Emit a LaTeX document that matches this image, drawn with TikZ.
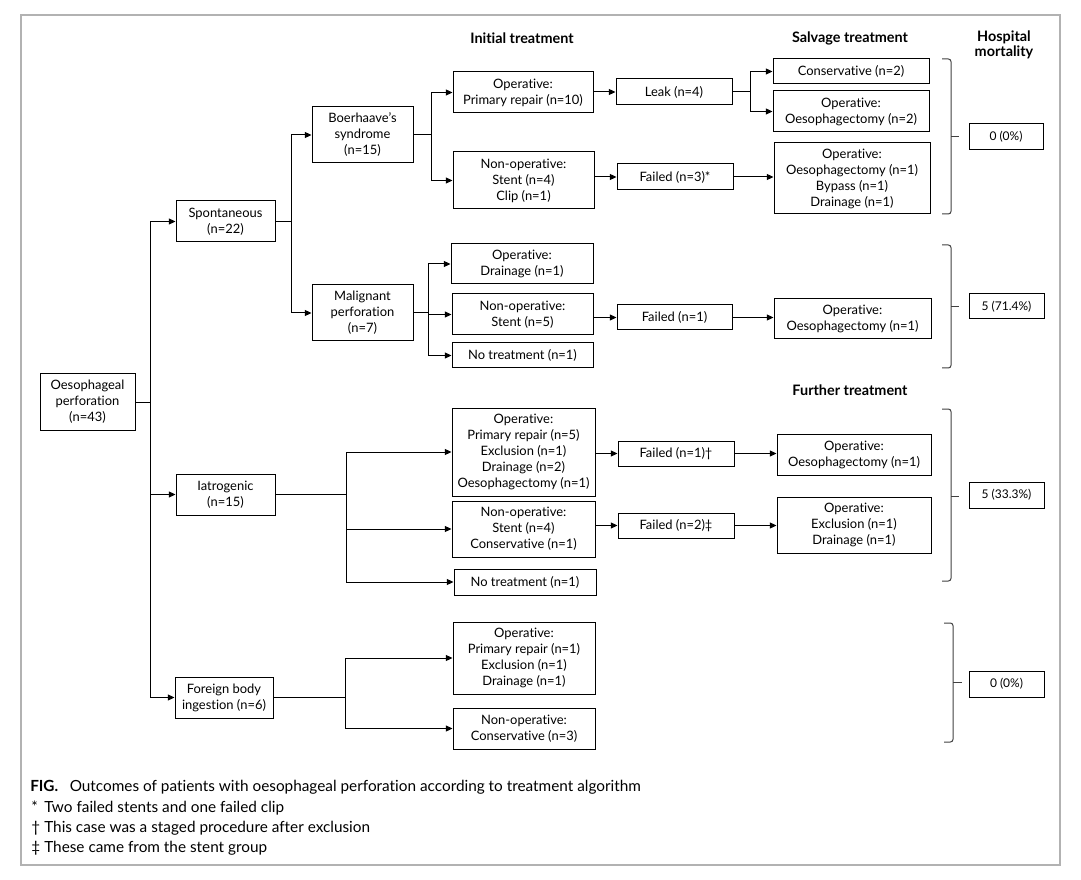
\documentclass[tikz,border=0pt]{standalone}
\usepackage{fontspec}
\setmainfont{Lato}[Ligatures=NoCommon]
\usetikzlibrary{arrows.meta}
\newcommand\nodebox[6]{\node[box, minimum width={(#4-#2)*0.75pt}, minimum height={(#5-#3)*0.75pt}] (#1) at ({(#2+#4)/2},{(#3+#5)/2}) {#6};}
\begin{document}
\begin{tikzpicture}[x=0.75pt,y=-0.75pt,
  box/.style={draw, line width=0.75pt, inner sep=1pt, align=center, font=\fontsize{9.7}{12}\selectfont},
  arr/.style={-{Triangle[length=5pt,width=4.5pt]}, line width=0.75pt},
  ln/.style={line width=0.75pt},
  hdr/.style={font=\bfseries\fontsize{10.8}{11.5}\selectfont, align=center},
  brace/.style={line width=0.75pt, rounded corners=2pt, draw=black!75},
  capt/.style={anchor=base west, inner sep=0pt, font=\fontsize{11.5}{12}\selectfont},
  fnote/.style={anchor=base west, inner sep=0pt, font=\fontsize{11.5}{12}\selectfont}]
\useasboundingbox (0,0) rectangle (1081,880);
\draw[black!30, line width=1.1pt] (21,15) rectangle (1060,865);

% headers
\node[hdr] (hinit) at (522,38) {Initial treatment};
\node[hdr] (hsalv) at (850,38) {Salvage treatment};
\node[hdr] (hmort) at (1004,45) {Hospital\\mortality};
\node[hdr] (hfurth) at (850,390) {Further treatment};

% boxes
\nodebox{root}{40}{374}{135}{430}{Oesophageal\\perforation\\(n=43)}
\nodebox{spont}{176}{201}{275}{242}{Spontaneous\\(n=22)}
\nodebox{boer}{312}{107}{413}{163}{Boerhaave’s\\syndrome\\(n=15)}
\nodebox{malig}{312}{285}{413}{341}{Malignant\\perforation\\(n=7)}
\nodebox{iatro}{176}{474}{275}{515}{Iatrogenic\\(n=15)}
\nodebox{foreign}{175}{677}{273}{718}{Foreign body\\ingestion (n=6)}
\nodebox{bop}{453}{72}{593}{113}{Operative:\\Primary repair (n=10)}
\nodebox{bnon}{453}{152}{594}{209}{Non-operative:\\Stent (n=4)\\Clip (n=1)}
\nodebox{mop}{451}{244}{593}{284}{Operative:\\Drainage (n=1)}
\nodebox{mnon}{452}{294}{593}{335}{Non-operative:\\Stent (n=5)}
\nodebox{mnone}{452}{343}{593}{368}{No treatment (n=1)}
\nodebox{iop}{452}{408}{595}{496}{Operative:\\Primary repair (n=5)\\Exclusion (n=1)\\Drainage (n=2)\\Oesophagectomy (n=1)}
\nodebox{inon}{452}{501}{595}{557}{Non-operative:\\Stent (n=4)\\Conservative (n=1)}
\nodebox{inone}{454}{569}{596}{595}{No treatment (n=1)}
\nodebox{fop}{453}{622}{595}{694}{Operative:\\Primary repair (n=1)\\Exclusion (n=1)\\Drainage (n=1)}
\nodebox{fnon}{453}{708}{595}{749}{Non-operative:\\Conservative (n=3)}
\nodebox{leak}{616}{79}{732}{105}{Leak (n=4)}
\nodebox{bfail}{617}{164}{733}{190}{Failed (n=3)*}
\nodebox{mfail}{617}{305}{732}{330}{Failed (n=1)}
\nodebox{ifaila}{618}{441}{734}{466}{Failed (n=1)†}
\nodebox{ifailb}{618}{513}{734}{538}{Failed (n=2)‡}
\nodebox{scons}{773}{59}{929}{84}{Conservative (n=2)}
\nodebox{soes}{773}{91}{929}{132}{Operative:\\Oesophagectomy (n=2)}
\nodebox{sop}{774}{143}{930}{214}{Operative:\\Oesophagectomy (n=1)\\Bypass (n=1)\\Drainage (n=1)}
\nodebox{moes}{774}{299}{931}{339}{Operative:\\Oesophagectomy (n=1)}
\nodebox{ioes}{777}{434}{931}{475}{Operative:\\Oesophagectomy (n=1)}
\nodebox{iexc}{777}{497}{931}{553}{Operative:\\Exclusion (n=1)\\Drainage (n=1)}
\tikzset{box/.style={draw, line width=0.75pt, inner sep=1pt, align=center, font=\fontsize{9}{12}\selectfont}}
\nodebox{morta}{969}{124}{1043}{150}{0 (0\%)}
\nodebox{mortb}{969}{294}{1044}{319}{5 (71.4\%)}
\nodebox{mortc}{969}{482}{1044}{508}{5 (33.3\%)}
\nodebox{mortd}{969}{671}{1044}{697}{0 (0\%)}

% junction columns
\coordinate (j0) at (150,0);
\coordinate (j1) at (291,0);
\coordinate (j2) at (431,0);
\coordinate (j3) at (750,0);
\coordinate (j4) at (428,0);
\coordinate (j5) at (346,0);
\coordinate (j6) at (345,0);

% root
\draw[ln] (root.east) -- (j0 |- root.east);
\draw[arr] (j0 |- root.east) |- (spont.west);
\draw[arr] (j0 |- root.east) |- (iatro.west);
\draw[arr] (j0 |- root.east) |- (foreign.west);
% spontaneous
\draw[ln] (spont.east) -- (j1 |- spont.east);
\draw[arr] (j1 |- spont.east) |- (boer.west);
\draw[arr] (j1 |- spont.east) |- (malig.west);
% boerhaave
\draw[ln] (boer.east) -- (j2 |- boer.east);
\draw[arr] (j2 |- boer.east) |- (bop.west);
\draw[arr] (j2 |- boer.east) |- (bnon.west);
\draw[arr] (bop.east |- leak.west) -- (leak.west);
\draw[ln] (leak.east) -- (j3 |- leak.east);
\draw[arr] (j3 |- leak.east) |- (scons.west);
\draw[arr] (j3 |- leak.east) |- (soes.west);
\draw[arr] (bnon.east |- bfail.west) -- (bfail.west);
\draw[arr] (bfail.east) -- (sop.west |- bfail.east);
% malignant
\draw[ln] (malig.east) -- (j4 |- malig.east);
\draw[arr] (j4 |- malig.east) |- (mop.west);
\draw[arr] (j4 |- malig.east) |- (mnon.west);
\draw[arr] (j4 |- malig.east) |- (mnone.west);
\draw[arr] (mnon.east |- mfail.west) -- (mfail.west);
\draw[arr] (mfail.east) -- (moes.west |- mfail.east);
% iatrogenic
\draw[ln] (iatro.east) -- (j5 |- iatro.east);
\draw[arr] (j5 |- iatro.east) |- (iop.west);
\draw[arr] (j5 |- iatro.east) |- (inon.west);
\draw[arr] (j5 |- iatro.east) |- (inone.west);
\draw[arr] (iop.east |- ifaila.west) -- (ifaila.west);
\draw[arr] (ifaila.east) -- (ioes.west |- ifaila.east);
\draw[arr] (inon.east |- ifailb.west) -- (ifailb.west);
\draw[arr] (ifailb.east) -- (iexc.west |- ifailb.east);
% foreign body
\draw[ln] (foreign.east) -- (j6 |- foreign.east);
\draw[arr] (j6 |- foreign.east) |- (fop.west);
\draw[arr] (j6 |- foreign.east) |- (fnon.west);

% braces
\draw[brace] (942,59) -- (951,59) -- (951,214) -- (942,214);
\draw[brace] (951,137) -- (959,137);
\draw[brace] (942,245) -- (951,245) -- (951,368) -- (942,368);
\draw[brace] (951,307) -- (959,307);
\draw[brace] (942,409) -- (951,409) -- (951,581) -- (942,581);
\draw[brace] (951,496) -- (959,496);
\draw[brace] (944,623) -- (953,623) -- (953,742) -- (944,742);
\draw[brace] (953,682) -- (962,682);

% caption
\node[capt] (cap) at (30,791) {\textbf{FIG.}\hspace{0.75em}Outcomes of patients with oesophageal perforation according to treatment algorithm};
\node[fnote] (fma) at (31,812) {*};
\node[fnote] (fta) at (44,812) {Two failed stents and one failed clip};
\node[fnote] (fmb) at (31,832) {†};
\node[fnote] (ftb) at (44,832) {This case was a staged procedure after exclusion};
\node[fnote] (fmc) at (31,852) {‡};
\node[fnote] (ftc) at (44,852) {These came from the stent group};
\end{tikzpicture}
\end{document}
